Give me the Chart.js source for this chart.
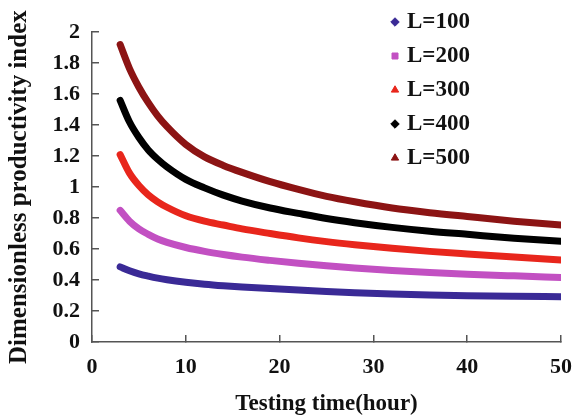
<!DOCTYPE html>
<html>
<head>
<meta charset="utf-8">
<script src="https://cdn.jsdelivr.net/npm/chart.js@4.4.1/dist/chart.umd.min.js"></script>
<style>
  html, body { margin: 0; padding: 0; background: #ffffff; }
  #wrap { width: 575px; height: 420px; position: relative; }
</style>
</head>
<body>
<div id="wrap"><canvas id="c" width="575" height="420"></canvas></div>
<script>
// Testing time (hour)
const times = [3, 4, 5, 6, 7, 8, 10, 12, 14, 16, 19, 22, 25, 28, 32, 36, 40, 45, 50];
// Dimensionless productivity index for each L
const L100 = [0.485, 0.46, 0.44, 0.425, 0.412, 0.402, 0.386, 0.373, 0.363, 0.355, 0.345, 0.335, 0.326, 0.318, 0.31, 0.304, 0.299, 0.295, 0.292];
const L200 = [0.85, 0.78, 0.73, 0.695, 0.665, 0.643, 0.61, 0.585, 0.565, 0.548, 0.527, 0.508, 0.492, 0.478, 0.462, 0.449, 0.438, 0.427, 0.417];
const L300 = [1.21, 1.09, 1.01, 0.95, 0.905, 0.87, 0.815, 0.78, 0.755, 0.73, 0.70, 0.672, 0.648, 0.628, 0.605, 0.585, 0.568, 0.548, 0.53];
const L400 = [1.56, 1.42, 1.32, 1.24, 1.18, 1.13, 1.05, 0.995, 0.948, 0.91, 0.865, 0.83, 0.797, 0.77, 0.74, 0.715, 0.695, 0.67, 0.65];
const L500 = [1.92, 1.765, 1.645, 1.545, 1.46, 1.39, 1.275, 1.195, 1.14, 1.095, 1.035, 0.985, 0.94, 0.905, 0.865, 0.835, 0.81, 0.78, 0.755];
const seriesLabels = ['L=100', 'L=200', 'L=300', 'L=400', 'L=500'];
const yTicks = [0, 0.2, 0.4, 0.6, 0.8, 1, 1.2, 1.4, 1.6, 1.8, 2];
const xTicks = [0, 10, 20, 30, 40, 50];

const colors = ['#3a2a96', '#c250c2', '#e8261c', '#000000', '#8c1414'];
const styles = ['rectRot', 'rect', 'triangle', 'rectRot', 'triangle'];
const values = [L100, L200, L300, L400, L500];

const datasets = values.map((vals, i) => ({
  label: seriesLabels[i],
  data: times.map((t, k) => ({ x: t, y: vals[k] })),
  showLine: true,
  borderColor: colors[i],
  backgroundColor: colors[i],
  borderWidth: 7,
  borderCapStyle: 'round',
  borderJoinStyle: 'round',
  cubicInterpolationMode: 'monotone',
  pointRadius: 0,
  pointHoverRadius: 0,
  pointStyle: styles[i]
}));

const serif = "'Liberation Serif', 'Times New Roman', serif";

const legendShift = {
  id: 'legendShift',
  afterLayout(chart) {
    const l = chart.legend;
    if (!l) return;
    const w = l.right - l.left, h = l.bottom - l.top;
    l.left = 383.5; l.right = l.left + w;
    l.top = -0.5; l.bottom = l.top + h + 40;
  }
};

new Chart(document.getElementById('c'), {
  type: 'scatter',
  data: { datasets },
  plugins: [legendShift],
  options: {
    responsive: false,
    animation: false,
    layout: { padding: { top: 21, right: 14, left: 0, bottom: 0 } },
    plugins: {
      tooltip: { enabled: false },
      legend: {
        position: 'chartArea',
        align: 'start',
        labels: {
          usePointStyle: true,
          boxWidth: 1,
          boxHeight: 6,
          padding: 11,
          color: '#111',
          font: { family: serif, size: 23, weight: 'bold', lineHeight: 1.2 },
          generateLabels: chart => Chart.defaults.plugins.legend.labels.generateLabels(chart)
            .map(item => Object.assign(item, { lineWidth: 1 }))
        }
      }
    },
    scales: {
      x: {
        type: 'linear',
        min: 0, max: 50,
        afterBuildTicks: s => { s.ticks = xTicks.map(v => ({ value: v })); },
        afterFit: s => { s.height = 78; s.paddingRight = 0; s.paddingLeft = 0; },
        border: { display: true, color: '#555', width: 1.5 },
        grid: { display: true, drawOnChartArea: false, drawTicks: true, tickLength: -7, color: '#555', lineWidth: 1.5 },
        ticks: { color: '#111', padding: 19, font: { family: serif, size: 22, weight: 'bold' } },
        title: { display: true, text: 'Testing time(hour)', color: '#111', padding: { top: 0, bottom: 2 },
                 font: { family: serif, size: 23, weight: 'bold' } }
      },
      y: {
        type: 'linear',
        min: 0, max: 2,
        afterBuildTicks: s => { s.ticks = yTicks.map(v => ({ value: v })); },
        afterFit: s => { s.width = 92; },
        border: { display: true, color: '#555', width: 1.5 },
        grid: { display: true, drawOnChartArea: false, drawTicks: true, tickLength: -7, color: '#555', lineWidth: 1.5 },
        ticks: { color: '#111', padding: 19, font: { family: serif, size: 22, weight: 'bold' },
                 callback: v => String(Number(v.toFixed(1))) },
        title: { display: true, text: 'Dimensionless productivity index', color: '#111', padding: { top: 5, bottom: 0 },
                 font: { family: serif, size: 25, weight: 'bold' } }
      }
    }
  }
});
</script>
</body>
</html>
